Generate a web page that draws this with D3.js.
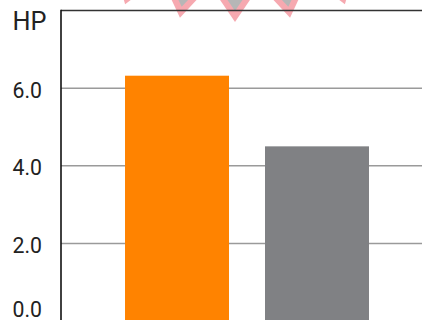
<!DOCTYPE html>
<html>
<head>
<meta charset="utf-8">
<script src="https://cdn.jsdelivr.net/npm/d3@7"></script>
<style>
  html, body { margin: 0; padding: 0; background: #fff; }
  svg { display: block; }
</style>
</head>
<body>
<svg id="chart" width="422" height="320"></svg>
<script>
// Chart data
const categories = ["A", "B"];
const values = [6.32, 4.5];
const barColors = ["#ff8300", "#808184"];
const yTicks = [0, 2, 4, 6];
const yLabel = "HP";
// Decorative pointer row along the top edge (angles in degrees from centre)
const pointerAngles = [-18.3, -9.05, 0, 9.05, 18.3];

const svg = d3.select("#chart");
const W = 422, H = 320;
const plotLeft = 61, plotTop = 10.5, plotBottom = 321;

const y = d3.scaleLinear().domain([0, 8]).range([plotBottom, plotTop]);
const x = d3.scaleBand()
  .domain(categories)
  .range([plotLeft, W])
  .paddingInner(36 / 140)
  .paddingOuter(0.418)
  .align(0.547);

// Gridlines
svg.append("g")
  .selectAll("line")
  .data(yTicks.filter(d => d > 0))
  .join("line")
  .attr("x1", plotLeft).attr("x2", W)
  .attr("y1", d => y(d)).attr("y2", d => y(d))
  .attr("stroke", "#9a9a9a")
  .attr("stroke-width", 1.5);

// Bars
svg.append("g")
  .selectAll("rect")
  .data(values)
  .join("rect")
  .attr("x", (d, i) => x(categories[i]))
  .attr("width", x.bandwidth())
  .attr("y", d => y(d))
  .attr("height", d => y(0) - y(d))
  .attr("fill", (d, i) => barColors[i]);

// Pointer decorations
const arcCx = 235, arcCy = -328, arcR = 350;
const ptr = svg.append("g");
pointerAngles.forEach(a => {
  const rad = a * Math.PI / 180;
  const px = arcCx + arcR * Math.sin(rad);
  const py = arcCy + arcR * Math.cos(rad);
  const g = ptr.append("g")
    .attr("transform", `translate(${px},${py}) rotate(${-a})`);
  g.append("path")
    .attr("d", "M0,0 L-21,-31 L21,-31 Z")
    .attr("fill", "#f6a9b0");
  g.append("path")
    .attr("d", "M0,-11 L-13.6,-31 L13.6,-31 Z")
    .attr("fill", "#b6b6b6");
});

// Frame: top line and left axis
svg.append("line")
  .attr("x1", plotLeft).attr("x2", W)
  .attr("y1", plotTop).attr("y2", plotTop)
  .attr("stroke", "#333")
  .attr("stroke-width", 1.6);

const yAxis = d3.axisLeft(y)
  .tickValues(yTicks)
  .tickSize(0)
  .tickPadding(19)
  .tickFormat(d3.format(".1f"));

const ag = svg.append("g")
  .attr("transform", `translate(${plotLeft},0)`)
  .call(yAxis);
ag.select(".domain").remove();
// Narrow, tall numerals
ag.selectAll("text")
  .attr("font-family", "Roboto, sans-serif")
  .attr("font-size", 21.5)
  .attr("fill", "#222")
  .attr("textLength", 29.5)
  .attr("lengthAdjust", "spacingAndGlyphs")
  .attr("dy", d => d === 0 ? "-0.22em" : "0.42em");

svg.append("line")
  .attr("x1", plotLeft).attr("x2", plotLeft)
  .attr("y1", plotTop - 0.8).attr("y2", H)
  .attr("stroke", "#111")
  .attr("stroke-width", 1.6);

svg.append("text")
  .attr("x", 12.5)
  .attr("y", 29.5)
  .attr("font-family", "Roboto, sans-serif")
  .attr("font-size", 25)
  .attr("fill", "#222")
  .attr("textLength", 34)
  .attr("lengthAdjust", "spacingAndGlyphs")
  .text(yLabel);
</script>
</body>
</html>
